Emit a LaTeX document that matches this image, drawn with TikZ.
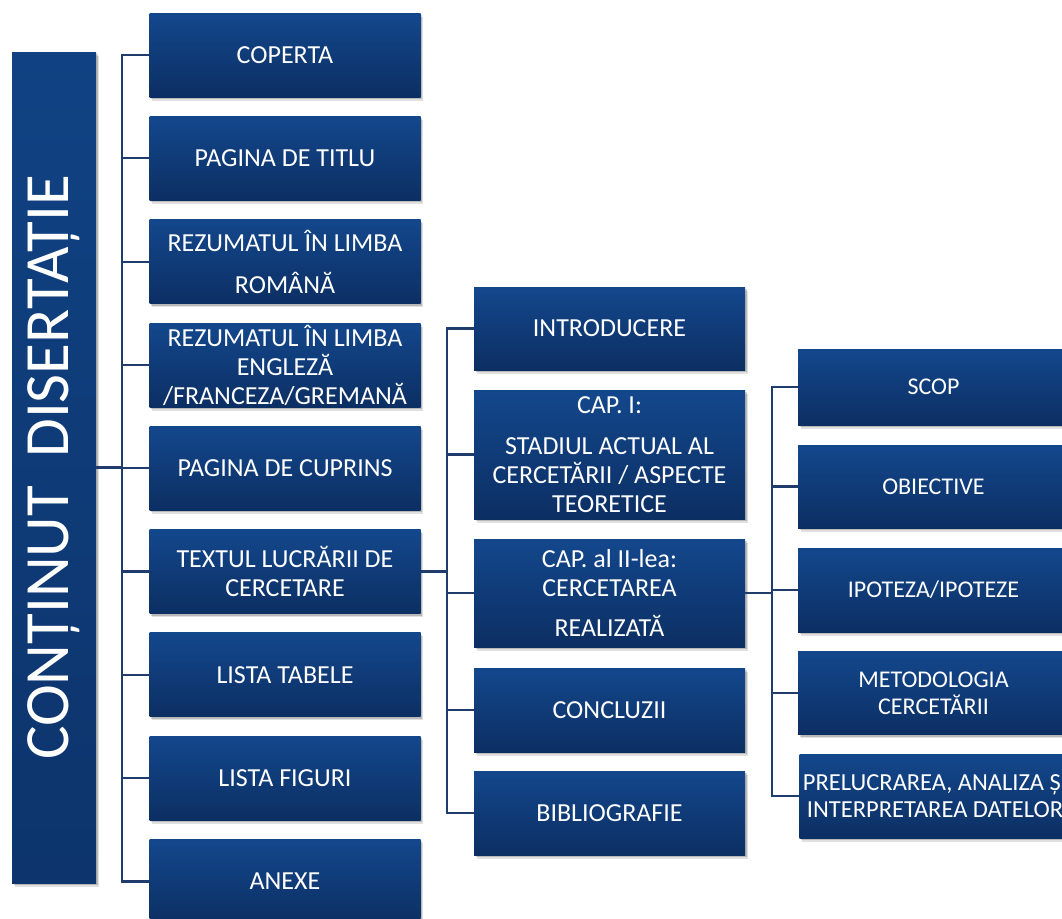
\documentclass[tikz,border=0pt]{standalone}
\usepackage{fontspec}
\setmainfont{Carlito}
\usetikzlibrary{shadows}
\definecolor{boxtop}{RGB}{19,71,140}
\definecolor{boxbot}{RGB}{12,47,99}
\definecolor{ltop}{RGB}{16,66,131}
\definecolor{lbot}{RGB}{13,52,108}
\definecolor{conncol}{RGB}{32,60,108}
\begin{document}
\begin{tikzpicture}[x=1pt,y=-1pt,
  softshadow/.style={
    drop shadow={shadow xshift=2.5pt,shadow yshift=-3.5pt,opacity=.12,fill=black},
    drop shadow={shadow xshift=1.5pt,shadow yshift=-2pt,opacity=.18,fill=black}},
  card/.style={rectangle, inner sep=0pt, minimum width=271pt, minimum height=84pt,
    top color=boxtop, bottom color=boxbot, text=white, align=center,
    font=\fontsize{26}{29}\selectfont, softshadow},
  smallcard/.style={card, font=\fontsize{24}{27}\selectfont},
  leftbox/.style={rectangle, inner sep=0pt, minimum width=84pt, minimum height=831pt,
    top color=ltop, bottom color=lbot, softshadow},
  conn/.style={draw=conncol, line width=2.2pt}
]
\useasboundingbox (0,0) rectangle (1062,918);

% left box
\node[leftbox] (L) at (54,467.5) {};
\node[rotate=90, text=white, font=\fontsize{63}{69}\selectfont, inner sep=0pt] (Ltext) at (L.center) {CONȚINUT\ \ DISERTAȚIE};

% column 1
\node[card] (c1) at (285,55) {COPERTA};
\node[card] (c2) at (285,158.3) {PAGINA DE TITLU};
\node[card] (c3) at (285,261.6) {REZUMATUL ÎN LIMBA\\[13pt]ROMÂNĂ};
\node[card] (c4) at (285,365) {REZUMATUL ÎN LIMBA\\ENGLEZĂ\\/FRANCEZA/GREMANĂ};
\node[card] (c5) at (285,468.2) {PAGINA DE CUPRINS};
\node[card] (c6) at (285,571.5) {TEXTUL LUCRĂRII DE\\CERCETARE};
\node[card] (c7) at (285,674.8) {LISTA TABELE};
\node[card] (c8) at (285,778) {LISTA FIGURI};
\node[card] (c9) at (285,881.4) {ANEXE};

% column 2
\node[card, minimum height=83pt] (d1) at (609.5,328.5) {INTRODUCERE};
\node[card, minimum height=129pt] (d2) at (609.5,454.5) {CAP. I:\\[12pt]STADIUL ACTUAL AL\\CERCETĂRII / ASPECTE\\TEORETICE};
\node[card, minimum height=108pt] (d3) at (609.5,593) {CAP. al II-lea:\\CERCETAREA\\[11pt]REALIZATĂ};
\node[card] (d4) at (609.5,710) {CONCLUZII};
\node[card] (d5) at (609.5,813) {BIBLIOGRAFIE};

% column 3
\node[smallcard, minimum height=76pt] (e1) at (933.5,387) {SCOP};
\node[smallcard, minimum height=83pt] (e2) at (933.5,486.5) {OBIECTIVE};
\node[smallcard] (e3) at (933.5,590) {IPOTEZA/IPOTEZE};
\node[smallcard, minimum height=83pt] (e4) at (933.5,693) {METODOLOGIA\\CERCETĂRII};
\node[smallcard, font=\fontsize{24.5}{27}\selectfont] (e5) at (935,796) {PRELUCRAREA, ANALIZA ȘI\\INTERPRETAREA DATELOR};

% trunk coordinates
\coordinate (t1) at (122,0);
\coordinate (t2) at (447,0);
\coordinate (t3) at (772,0);

% connectors level 1
\draw[conn] (L.east) -- (L.east -| t1);
\draw[conn, line join=miter] (c1.west) -- (c1.west -| t1) -- (c9.west -| t1) -- (c9.west);
\foreach \n in {c2,c3,c4,c5,c6,c7,c8}
  \draw[conn] (\n.west) -- (\n.west -| t1);

% connectors level 2
\draw[conn] (c6.east) -- (c6.east -| t2);
\draw[conn, line join=miter] (d1.west) -- (d1.west -| t2) -- (d5.west -| t2) -- (d5.west);
\foreach \n in {d2,d3,d4}
  \draw[conn] (\n.west) -- (\n.west -| t2);

% connectors level 3
\draw[conn] (d3.east) -- (d3.east -| t3);
\draw[conn, line join=miter] (e1.west) -- (e1.west -| t3) -- (e5.west -| t3) -- (e5.west);
\foreach \n in {e2,e3,e4}
  \draw[conn] (\n.west) -- (\n.west -| t3);
\end{tikzpicture}
\end{document}
